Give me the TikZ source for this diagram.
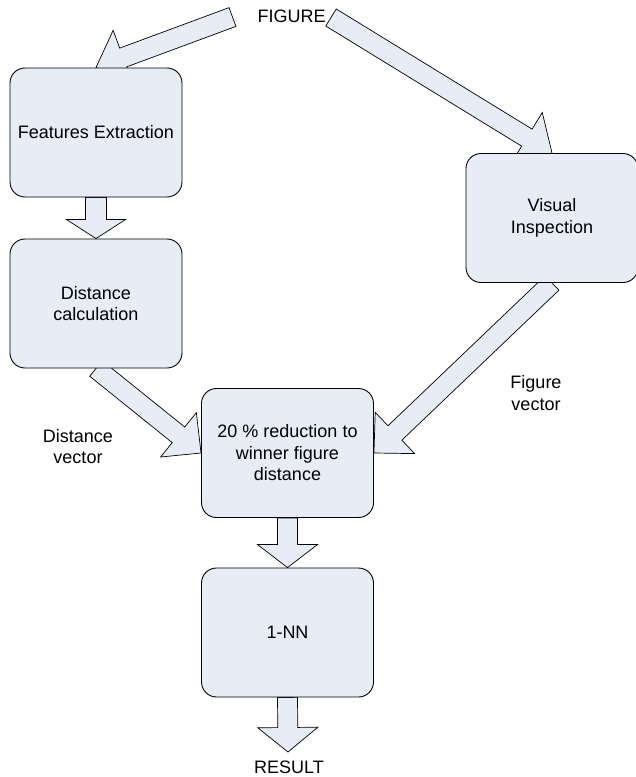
\documentclass[tikz,border=0pt]{standalone}
\usepackage{fontspec}
\setmainfont{Liberation Sans}
\usetikzlibrary{calc}
\pgfdeclarelayer{paper}
\pgfdeclarelayer{bg}
\pgfsetlayers{paper,bg,main}
\definecolor{boxfill}{RGB}{231,236,247}
\newcommand{\blockarr}[5]{%
  \coordinate (bah) at ($(#2)!#5!(#1)$);
  \draw[blockarrow] ($(#1)!#3!90:(#2)$) -- ($(bah)!#3!90:(#2)$) -- ($(bah)!#4!90:(#2)$) -- (#2) -- ($(bah)!#4!-90:(#2)$) -- ($(bah)!#3!-90:(#2)$) -- ($(#1)!#3!-90:(#2)$) -- cycle;}
\begin{document}
\begin{tikzpicture}[x=1pt,y=-1pt,
  box/.style={draw=black, line width=0.9pt, fill=boxfill, rounded corners=15pt,
    minimum width=172pt, minimum height=129pt, align=center,
    font=\fontsize{18}{21.5}\selectfont, inner sep=0pt},
  lbl/.style={align=center, font=\fontsize{18}{21.5}\selectfont, inner sep=0pt},
  blockarrow/.style={draw=black, line width=0.7pt, fill=boxfill, line join=miter}]
\useasboundingbox (0,0) rectangle (636,777);
\begin{pgfonlayer}{paper}
\fill[white] (0,0) rectangle (636,777);
\end{pgfonlayer}

\node[lbl] (fig) at (291.5,16) {FIGURE};
\node[box] (fe) at (96,132.5) {Features Extraction};
\node[box] (dc) at (96,303.5) {Distance\\calculation};
\node[box] (vi) at (552,218) {Visual\\Inspection};
\node[box] (rd) at (287.5,453) {20 \% reduction to\\winner figure\\distance};
\node[box] (nn) at (287.5,632.5) {1-NN};
\node[lbl] (res) at (289,767) {RESULT};
\node[lbl] (dvl) at (78,446.5) {Distance\\vector};
\node[lbl] (fvl) at (536,393) {Figure\\vector};

\coordinate (figL) at (232.5,17);
\coordinate (figR) at (331,17.5);
\coordinate (resT) at (288,752);

\begin{pgfonlayer}{bg}
  \blockarr{figL}{fe.north}{10pt}{29pt}{29pt}
  \blockarr{figR}{vi.north}{10pt}{29.5pt}{29.5pt}
  \blockarr{fe.south}{dc.north}{10.5pt}{29.5pt}{19pt}
  \blockarr{dc.south}{rd.west}{10pt}{28.5pt}{29pt}
  \blockarr{vi.south}{rd.east}{10pt}{28.5pt}{29pt}
  \blockarr{rd.south}{nn.north}{10pt}{30pt}{23pt}
  \blockarr{nn.south}{resT}{10pt}{30pt}{24.5pt}
\end{pgfonlayer}
\end{tikzpicture}
\end{document}
